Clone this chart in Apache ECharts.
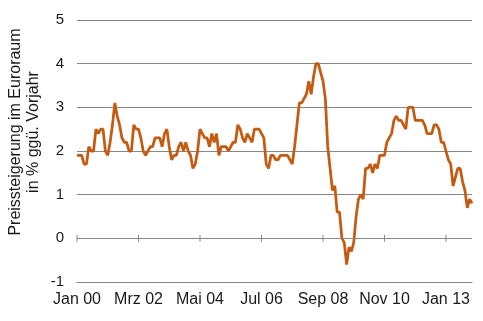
<!DOCTYPE html>
<html><head><meta charset="utf-8">
<script src="https://cdn.jsdelivr.net/npm/echarts@6/dist/echarts.min.js"></script>
<style>html,body{margin:0;padding:0;background:#fff}#c{width:483px;height:321px}</style>
</head><body><div id="c"></div>
<script>
const MONTHS = ['Jan','Feb','Mrz','Apr','Mai','Jun','Jul','Aug','Sep','Okt','Nov','Dez'];
const YEARS = ['00','01','02','03','04','05','06','07','08','09','10','11','12','13'];
const y2000 = [1.9,1.9,1.9,1.7,1.7,2.1,2.0,2.0,2.5,2.4,2.5,2.5];
const y2001 = [2.0,1.9,2.2,2.6,3.1,2.8,2.6,2.3,2.2,2.2,2.0,2.0];
const y2002 = [2.6,2.5,2.5,2.3,2.0,1.9,2.0,2.1,2.1,2.3,2.3,2.3];
const y2003 = [2.1,2.4,2.5,2.1,1.8,1.9,1.9,2.1,2.2,2.0,2.2,2.0];
const y2004 = [1.9,1.6,1.7,2.0,2.5,2.4,2.3,2.3,2.1,2.4,2.2,2.4];
const y2005 = [1.9,2.1,2.1,2.1,2.0,2.1,2.2,2.2,2.6,2.5,2.3,2.2];
const y2006 = [2.4,2.3,2.2,2.5,2.5,2.5,2.4,2.3,1.7,1.6,1.9,1.9];
const y2007 = [1.8,1.8,1.9,1.9,1.9,1.9,1.8,1.7,2.1,2.6,3.1,3.1];
const y2008 = [3.2,3.3,3.6,3.3,3.7,4.0,4.0,3.8,3.6,3.2,2.1,1.6];
const y2009 = [1.1,1.2,0.6,0.6,0.0,-0.1,-0.6,-0.2,-0.3,-0.1,0.5,0.9];
const y2010 = [1.0,0.9,1.6,1.6,1.7,1.5,1.7,1.6,1.9,1.9,1.9,2.2];
const y2011 = [2.3,2.4,2.7,2.8,2.7,2.7,2.6,2.5,3.0,3.0,3.0,2.7];
const y2012 = [2.7,2.7,2.7,2.6,2.4,2.4,2.4,2.6,2.6,2.5,2.2,2.2];
const y2013 = [2.0,1.8,1.7,1.2,1.4,1.6,1.6,1.3,1.1,0.7,0.9,0.8];
const TICK_LABELS = ['Jan 00','Mrz 02','Mai 04','Jul 06','Sep 08','Nov 10','Jan 13'];
const Y_MIN = -1, Y_MAX = 5, Y_STEP = 1;
const Y_TITLE = 'Preissteigerung im Euroraum\nin % ggü. Vorjahr';

const categories = [];
YEARS.forEach(y => MONTHS.forEach(m => categories.push(m + ' ' + y)));
const values = [].concat(y2000,y2001,y2002,y2003,y2004,y2005,y2006,y2007,y2008,y2009,y2010,y2011,y2012,y2013);

const FONT = 'Liberation Sans, Arial, sans-serif';
const TXT = '#1a1a1a';
const GRID = '#888888';

const chart = echarts.init(document.getElementById('c'), null, {renderer:'canvas'});
chart.setOption({
  animation: false,
  backgroundColor: '#fff',
  grid: {left: 77, right: 11, top: 20, bottom: 39, containLabel: false, outerBoundsMode: 'none'},
  xAxis: {
    type: 'category', data: categories, boundaryGap: false, position: 'bottom',
    axisLine: {show: true, onZero: false, lineStyle: {color: GRID, width: 1}},
    axisTick: {show: false},
    axisLabel: {show: true, interval: 25, margin: 10, color: TXT, fontSize: 16, fontFamily: FONT, hideOverlap: false},
    splitLine: {show: false}
  },
  yAxis: {
    type: 'value', min: Y_MIN, max: Y_MAX, interval: Y_STEP,
    axisLine: {show: false}, axisTick: {show: false},
    axisLabel: {margin: 13, color: TXT, fontSize: 15, fontFamily: FONT},
    splitLine: {show: true, lineStyle: {color: GRID, width: 1}}
  },
  graphic: [{
    type: 'text', x: 25, y: 132, rotation: Math.PI / 2,
    style: {text: Y_TITLE, fill: TXT, fontSize: 16, fontFamily: FONT, align: 'center', verticalAlign: 'middle', lineHeight: 18}
  }],
  series: [{
    type: 'line', data: values, showSymbol: false, symbol: 'none',
    lineStyle: {color: '#C55A11', width: 2.75}, itemStyle: {color: '#C55A11'},
    markLine: {
      silent: true, symbol: 'none', label: {show: false},
      lineStyle: {color: GRID, type: 'solid', width: 1},
      emphasis: {disabled: true},
      data: [{yAxis: 0}]
    },
    markPoint: {
      silent: true, symbol: 'rect', symbolSize: [1, 7], label: {show: false},
      itemStyle: {color: GRID},
      emphasis: {disabled: true},
      data: TICK_LABELS.map(c => ({coord: [c, 0]}))
    }
  }]
});
</script></body></html>
